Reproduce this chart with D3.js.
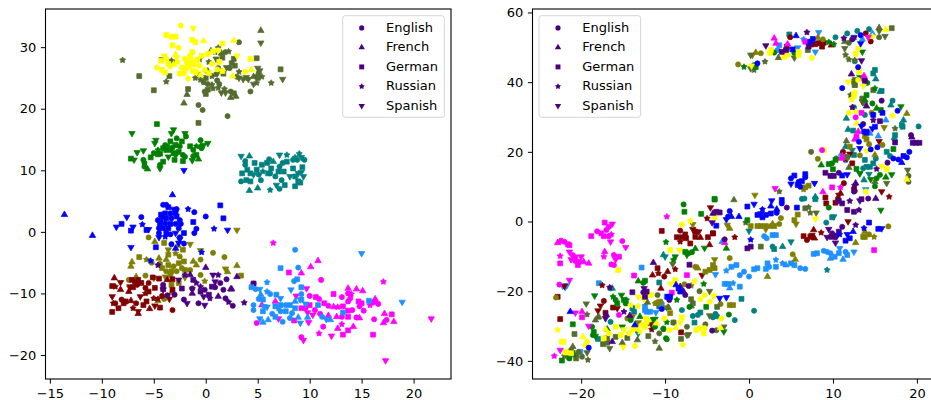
<!DOCTYPE html>
<html>
<head>
<meta charset="utf-8">
<script src="https://cdn.jsdelivr.net/npm/d3@7"></script>
<style>
  html, body { margin: 0; padding: 0; background: #fff; overflow: hidden; }
  svg { display: block; }
  text { font-family: "DejaVu Sans", sans-serif; fill: #000; }
</style>
</head>
<body>
<svg id="chart" width="931" height="400"></svg>
<script>
var languages = ["English", "French", "German", "Russian", "Spanish"];

var leftXTicks = [-15, -10, -5, 0, 5, 10, 15, 20];
var leftYTicks = [-20, -10, 0, 10, 20, 30];
var rightXTicks = [-20, -10, 0, 10, 20];
var rightYTicks = [-40, -20, 0, 20, 40, 60];
var leftXDomain = [-15.42, 23.6];
var leftYDomain = [-23.9, 36.2];
var rightXDomain = [-25.8, 21.8];
var rightYDomain = [-45.2, 61];

// each point is [x, y, language index]
var leftYellow = [[-2.4,33.5,0],[-1.2,33.1,4],[-3.8,32,2],[-3.3,31.7,2],[-2.9,31.7,2],[-3.2,30.3,2],[-2.6,29.9,0],[-1.3,31.2,2],[-1,30.8,2],[-.2,31,1],[2.7,31.1,1],[1.6,30.6,2],[.2,28.9,2],[1.2,29.5,0],[.7,29.3,2],[3,28.6,4],[4.3,28.1,2],[-4.3,27.8,2],[-3.8,28.1,0],[-3.6,27.3,2],[-2.8,28.3,4],[-2.7,27.6,3],[-2,28.1,0],[-1.8,27.6,2],[-1.5,28.5,2],[-1.3,27.7,0],[-1.1,27.2,2],[-1.6,26.9,2],[-1.9,26.6,2],[-1.3,29.2,2],[-.8,28,2],[-.6,27,0],[-2.3,26.7,0],[-2.1,25.8,2],[-2.5,25.7,2],[-1.7,24.9,0],[-4.7,26.7,0],[-4.2,26.3,2],[-3.9,25.9,2],[-3.4,26.9,0],[-3.1,27.2,1],[-1,26,2],[-.5,25.5,1],[.3,25.8,2],[-.1,26.3,0],[1.6,26.1,2],[1.1,26.4,0],[2.6,25.3,1],[3.8,26,0],[4.4,26.3,1],[-.4,28.6,2],[.6,27.3,0],[1.3,27.6,2],[-4,28.6,4],[-2.9,28.8,1],[-1.2,26.1,2],[-.9,25.9,4]];
var leftOliveGreen = [[-8,27.9,3],[-6.4,25.3,2],[-5,23,2],[-3.5,25.3,2],[-3.8,24.4,3],[3.2,30.8,0],[5.3,32.7,1],[5.3,30.7,4],[4.9,28.2,2],[7.2,26.4,2],[7.4,24.8,4],[6.3,24.2,3],[4.3,22.8,0],[-1.7,23.2,2],[-1.8,22.3,1],[-2.1,20.9,1],[-.7,20.6,0],[-.3,19.8,0],[2.1,18.8,0],[-.7,17.7,2],[-4.2,28,4],[-3.3,27.8,3],[-3.2,27.5,4],[-.6,28,3],[.3,27.6,3],[1,28.1,4],[1.6,28.3,2],[.9,29.2,3],[1.2,29.9,3],[.5,29.4,1],[1.5,29,1],[1.9,29.2,0],[2.2,29.3,3],[2.5,27.4,2],[2.8,27,2],[2.7,28.1,2],[2.3,26.6,0],[2,26.7,4],[1.2,26.6,0],[1.4,26.1,2],[1.7,25.7,2],[1,25.6,0],[.6,25.3,3],[.2,26.1,1],[-.8,25.6,4],[-1,25,3],[-.5,24.7,3],[-.2,24.3,0],[0,25,2],[.2,24,0],[.6,23.9,3],[1.1,24.6,0],[1.3,24,0],[1.2,23.4,3],[.7,23.3,3],[.2,23.1,2],[-.1,22.8,0],[0,22.4,2],[1.8,23.2,3],[1.5,22.6,4],[1.9,22.6,4],[2.4,22.8,0],[2.7,22.5,2],[2.9,22,1],[2.4,21.8,1],[3,25.2,0],[3.2,25,4],[3.6,24.8,4],[3.9,25.1,4],[4.1,24.8,4],[4.6,25.2,1],[4.9,25.3,3],[5.1,25.8,0],[5.2,26.2,4],[5.4,25.2,3],[4.9,24.2,3],[4.6,24,4],[5,26.6,4],[3.2,26,3],[5,25,2]];
var leftGreen = [[-4.7,17.5,2],[-7.1,16,4],[-7.2,11.9,2],[-6.9,11.7,4],[-6.6,12.9,4],[-6,13.2,4],[-6,11.7,0],[-5.9,11.2,0],[-5.9,10.6,0],[-5.6,10.2,1],[-5.3,12.1,2],[-4.8,14.9,4],[-4.9,14.4,4],[-4.4,10.3,4],[-4.4,10.9,0],[-4.1,11.4,2],[-5,12.8,0],[-4.6,13.3,3],[-4.4,12.7,2],[-4.1,13.6,2],[-3.9,14.1,0],[-3.8,13.3,2],[-3.4,14.7,2],[-3.3,16,4],[-3.1,16.6,4],[-2.8,15.2,0],[-2,16,4],[-1.9,15.5,0],[-2.9,14.1,2],[-2.5,13.9,0],[-2.3,14.7,2],[-3.4,13.3,0],[-3.1,12.8,2],[-2.6,13,2],[-2.2,12.5,0],[-3,11.7,2],[-2.2,11.5,2],[-2,12.2,0],[-3.6,12.2,4],[-1.5,13.9,2],[-1.2,13.3,0],[-1.2,12.3,0],[-1.3,11.6,4],[-.7,11.8,1],[-.9,12.5,2],[-.5,14.9,0],[-.5,13.9,3],[-.2,14.1,4],[.2,14.4,4],[-.9,13.9,3],[-.4,13.6,0],[-4.6,12.6,2],[-3.7,13.8,2],[-3.2,13.7,0],[-2.9,12.6,0]];
var leftTeal = [[3.4,12.3,4],[4.2,12.3,1],[3.8,11.5,0],[3.8,10.9,0],[4,10.1,2],[3.5,9.5,2],[3.4,8.2,0],[3.9,8.4,2],[4.3,8.2,2],[4.2,6.7,1],[5,7.1,1],[6.2,6.8,3],[7.1,7,0],[8.6,7.4,2],[4.7,11.2,2],[4.9,10.1,2],[5.3,8.4,0],[5.4,10.9,2],[5.9,11.2,2],[6.1,11.8,0],[6.3,10.3,2],[6,9.5,2],[6.7,9,0],[7,9.8,2],[7.5,9.8,2],[7.3,8.4,0],[7.6,7.6,2],[6.8,7.6,4],[6.5,11.4,1],[7.1,12.5,4],[7.8,12.5,3],[8.6,12.1,3],[8.4,11.7,0],[8.8,11.7,0],[7.8,11.4,2],[7.4,11.2,0],[8.4,10.3,2],[8.9,9.5,4],[8.6,9,2],[8.9,8.2,2],[8.1,9,4],[6.2,9.5,0],[5.5,9.8,3],[4.6,9.3,4],[4.3,9.5,2],[5.1,9.3,0],[7.1,10.6,0],[9.2,12.1,4],[9.5,11.7,0],[9.3,10.5,2],[9.2,9.7,4],[9.4,9,4],[9,12.7,3],[9.1,8,2]];
var leftBlue = [[-13.6,2.8,1],[-10.9,-.6,1],[-2.1,10,4],[-3.2,6,1],[-8.6,.8,4],[-8.1,1.3,2],[-7.6,2.4,4],[-7,.8,4],[-7.2,.2,2],[-6.2,2.4,0],[-6.1,1.2,3],[-5.7,.3,2],[-5.5,.4,4],[-7.2,-2.5,4],[-5.3,-4.7,3],[-4.8,-2.5,2],[-3.3,-2,0],[-2.9,-2.7,1],[-2.6,-1.8,4],[-2.1,-1.9,0],[-.4,-3.3,3],[-1.7,3.7,3],[-1.1,3.2,0],[-1.2,1.6,2],[-.9,.5,0],[-1.1,-.2,0],[-2.1,-.2,2],[-2.5,-.9,0],[-2.5,-1.2,4],[0,2.5,0],[1.4,4.3,2],[1.7,2.2,2],[.8,.5,3],[2.1,.3,4],[-4.1,4.4,0],[-3.8,4.4,0],[-3.6,4,2],[-3.1,3.7,4],[-2.8,3.7,0],[-4.3,2.8,2],[-4.6,1.9,0],[-3.9,3,2],[-3.4,3,0],[-2.9,3,2],[-4.2,2.2,4],[-3.8,2.2,2],[-3.3,2.2,0],[-2.8,2.5,2],[-2.5,1.9,0],[-4.4,1.4,2],[-3.9,1.4,0],[-3.4,1.3,2],[-2.9,1.3,0],[-2.4,1.3,0],[-4.5,.6,0],[-4.1,.6,2],[-3.6,.6,2],[-2.6,.6,0],[-4.5,-.2,0],[-3.8,-.2,2],[-3.4,-.4,0],[-2.9,-.2,4],[-4.5,-.9,4],[-3.9,-.8,3]];
var leftOlive = [[-5.5,-.9,0],[-4.9,-1.6,1],[-4,-1.8,2],[-2.7,-2.2,1],[-1.5,-2,4],[-.5,-3,4],[.7,-3.4,0],[1.8,-4.1,0],[3,.3,4],[-6.4,-4.1,2],[-7.1,-4.9,1],[-7.2,-5.6,1],[-5.7,-4.5,3],[-5.2,-5,0],[-4.5,-4.3,1],[-3.6,-2.9,4],[-3.6,-3.7,2],[-2.9,-3.5,3],[-2.2,-2.9,2],[-2.5,-4,0],[-2.1,-4.8,2],[-3.8,-4.5,1],[-4.4,-5.2,0],[-4.2,-5.9,2],[-3.6,-5.4,2],[-3.1,-5.6,0],[-2.6,-5.1,2],[-2.3,-5.9,0],[-2,-6.2,2],[-3.8,-6.4,0],[-3.3,-6.4,2],[-2.8,-6.4,0],[-3.9,-7.3,4],[-3.4,-7,2],[-1.2,-4.8,1],[-.5,-4.5,0],[-.9,-5.4,1],[-1.5,-6.2,0],[-.5,-7,0],[1.9,-6,4],[2.1,-6.5,1],[3,-5.5,1],[3.4,-7.1,2],[-.1,-8,3],[-7.4,-7.8,0],[-6.7,-7.3,1],[-7.3,-9.1,4],[-5.8,-7.1,0],[-5,-7.5,4],[-4.6,-11.2,1],[-4,-10.9,0],[-3.3,-9.9,1],[-3.3,-8.6,2],[-2.6,-8.3,2],[-2,-7.4,4],[-1.3,-9.3,4]];
var leftMaroon = [[-3.2,-12.7,0],[-9,-13,2],[-8.4,-12.4,2],[-9,-10.5,4],[-8.8,-7.5,1],[-9,-8.8,2],[-8.7,-8.9,3],[-8.2,-8.2,4],[-8.7,-11.6,0],[-8.9,-11.6,3],[-8.1,-11,0],[-7.7,-11.3,2],[-8.2,-9.4,1],[-7.4,-9.7,1],[-7.2,-11.2,1],[-7,-12.4,3],[-6.5,-12.9,4],[-6.5,-13.3,1],[-6.7,-11.6,0],[-6,-11.9,2],[-5.7,-11.3,2],[-7.1,-7.8,2],[-6.8,-8.1,2],[-6.5,-7.8,2],[-7,-9,2],[-6.6,-8.6,0],[-6.2,-8.3,2],[-5.8,-9.1,0],[-5.5,-9.7,2],[-5.5,-8.3,0],[-5.1,-7.4,2],[-4.9,-9.1,2],[-4.5,-7.6,2],[-4.1,-9.4,4],[-4.2,-10.4,0],[-4.6,-10.9,3],[-4.9,-12,4],[-4.4,-12.3,2],[-5.4,-12.5,1],[-3.5,-10.9,4],[-3.2,-9.4,2],[-3.2,-7.7,2],[-3.7,-7.8,1],[-5,-10.8,3],[-6.3,-10.5,4],[-5.8,-10,3],[-7.3,-8.9,4],[-7.9,-11.6,2]];
var leftIndigo = [[0,-5.8,1],[-1.8,-11.6,4],[-2.1,-11,0],[-3,-10.2,0],[-3.7,-10.3,0],[-4.1,-8.6,0],[-4.1,-9.3,2],[-4.6,-5.4,3],[-2.6,-7.8,4],[-2,-7,3],[-1.5,-7,1],[-2.3,-9.2,2],[-1.3,-9.2,0],[-.9,-8.3,3],[-1.2,-7.8,2],[-.5,-8.9,3],[-.5,-9.7,2],[-.1,-9.4,0],[.3,-10.2,2],[-.2,-10.5,4],[.4,-10.8,3],[-.1,-11.9,4],[-.7,-11.6,0],[-1.3,-10,1],[.6,-8.9,2],[.9,-8.1,4],[.7,-7,4],[1.2,-7,3],[1.4,-8.3,0],[1.7,-9.4,0],[1.2,-10.5,1],[.9,-9,0],[2,-7.7,0],[2.4,-9.3,1],[1.9,-10.8,0],[2.2,-11.4,3],[2.6,-12,0],[3,-7.3,1],[4.6,-8.4,2],[4.6,-8.4,0],[2.5,-9.3,1],[3.7,-11.5,3]];
var leftMagenta = [[6.5,-1.8,3],[10.8,-4.7,1],[10.1,-5.7,1],[8,-6.6,2],[9.2,-6.7,1],[11.1,-7.8,0],[17.1,-8.1,3],[9.7,-9.2,4],[8.7,-10.4,4],[10,-10.4,0],[10.6,-10.6,2],[10.9,-10.9,0],[12.3,-10.1,2],[13.1,-10.6,0],[13.7,-9.2,1],[13.7,-10,0],[14,-10.1,3],[14.5,-9.3,1],[15.1,-9.6,1],[13.9,-10.8,0],[13.7,-11.3,0],[14.7,-11.3,2],[15,-11.6,2],[14.8,-12.1,0],[15.8,-11.9,3],[16.3,-10.9,1],[16.3,-11.3,0],[16.6,-11.7,0],[16,-11.5,2],[11.4,-11.6,2],[11.8,-12,0],[12.3,-12.2,1],[12.7,-12.2,3],[13.2,-12.1,2],[10.5,-12.7,0],[10,-11.9,2],[9.6,-12.4,0],[9.2,-12.4,2],[9.8,-13.1,4],[10.3,-13.5,4],[11,-13.3,0],[11.8,-13.6,1],[12.6,-13.8,1],[13.1,-13.8,0],[13.7,-12.8,2],[14.1,-12.7,0],[13.7,-13.8,2],[14.5,-13.9,0],[14.8,-14,1],[15.2,-12.8,0],[16.2,-14.2,0],[17.2,-13.3,1],[17.9,-13.4,2],[17.4,-14.3,0],[17.1,-14.8,1],[18.1,-14.6,1],[21.7,-14.1,4],[17.3,-20.9,4],[16.1,-16.7,2],[13.7,-16,2],[13.2,-16.7,2],[14.2,-15.4,1],[13.1,-15,3],[12.7,-15.7,1],[11.3,-15.4,0],[10.9,-16.5,3],[12.1,-16.9,4],[9.2,-17.1,0],[9.4,-17.6,4],[9.9,-14.7,4],[8.5,-14.4,2],[7,-14.1,4],[4.9,-14.8,0],[5.4,-11.9,1],[6.7,-11.3,1]];
var leftDodger = [[8.6,-2.9,0],[15,-3.5,4],[7.2,-5.9,2],[8.9,-5.8,0],[8.5,-8,0],[8.8,-7.7,2],[9.2,-9,2],[5.9,-8.2,3],[4.4,-9,2],[4.8,-9.3,0],[5.2,-9.3,4],[5.3,-10.2,1],[5.9,-9.7,3],[6.2,-10.1,0],[8.2,-9.4,4],[9.2,-10.1,0],[5.1,-10.9,0],[5.5,-11,2],[6.8,-10.2,2],[7.2,-10.8,4],[4.6,-11.9,0],[4.6,-12.7,0],[5.6,-12.1,4],[5.9,-12.2,4],[5.5,-12.9,2],[6.4,-13.3,0],[6.7,-12.1,2],[7.2,-11.9,2],[7.7,-11.9,0],[8.1,-11.9,2],[8.6,-11.3,1],[9.1,-11,4],[9.6,-11.7,4],[10.8,-11.9,2],[7.2,-12.9,0],[7.7,-12.9,2],[8.3,-13.2,0],[6.7,-13.8,2],[7.4,-14.6,0],[8.1,-14,0],[8.9,-13.9,1],[5.2,-14.1,4],[5.5,-14.7,1],[6,-14.3,1],[9.1,-14.8,4],[9.8,-13.9,1],[11.2,-13.8,0],[11.6,-14.2,4],[12,-14.3,1],[13.2,-13.1,2],[15.7,-11.2,2],[18.9,-11.4,4],[7,-12.4,3],[8.6,-12.4,2],[9.2,-11,2]];

var rightDodger = [[1.8,-4.2,0],[2.1,-4.8,0],[2.8,-3.9,2],[3.2,-3.9,2],[7.7,-9.3,2],[8.1,-9.1,2],[8.9,-8.4,0],[9.3,-8.7,0],[9.7,-9.1,0],[10.2,-10.1,2],[10.7,-9.1,2],[10.8,-7.7,4],[11.5,-8.7,0],[11.7,-9.6,2],[12.5,-8.7,4],[11.2,-10.9,1],[9.7,-10.6,1],[3.2,-11,3],[2.2,-12,2],[2.4,-13,0],[2,-13.6,2],[1,-13.4,2],[.6,-13.7,2],[0,-15.8,0],[-.6,-14.4,0],[-1.1,-15.4,0],[-1.5,-12.5,2],[-2.1,-13,2],[-2.7,-14.1,3],[-4,-15.2,4],[4,-12,3],[4.4,-12.5,1],[5,-12,2],[5.4,-12.5,2],[6.1,-13.4,0],[6.7,-13.6,0],[3.2,-13,2],[-2.9,-17.9,2],[-2.5,-17.9,2],[-1.9,-17.7,3],[-1.1,-18.7,2],[-2.3,-19.1,1],[8.3,54.3,4],[6.5,52.3,3],[3.6,50.6,2],[3.4,49.2,0],[4.6,49.5,3],[5.8,49.9,4],[7.9,48.7,4],[12.5,52.8,2],[13.5,52.3,1],[14.7,54,1],[16.3,29.1,1],[15.4,24.5,1],[14.4,25.3,1],[11.5,17.6,0],[11,19.4,1],[13.9,9.2,4],[-17.9,-17.7,2],[-22.2,-18.5,4],[-21.9,-18.9,4],[-21.7,-18.3,4],[-12.8,-13.2,2],[-12.4,-24.4,2],[-12.4,-25.4,2],[-12.2,-25.9,2],[-11.8,-25.9,2],[-11.1,-26.1,4],[-10.4,-24.4,0],[-10.4,-23.5,0],[-9.8,-21.6,2],[-20.1,-37.4,2],[-3.2,-5.8,1]];
var rightTeal = [[4.8,53.7,2],[10.3,52.9,0],[11.7,54,0],[12.9,54.7,0],[14.3,55.2,0],[15,43.5,2],[14.8,42.5,2],[15.1,40.9,1],[15.6,37.3,1],[15.8,37.5,2],[12.6,46,0],[17.1,34.7,0],[16.9,33.4,1],[11.6,29.6,1],[18.4,29.1,1],[18.2,27.7,2],[18.3,27.2,2],[20.2,27.3,0],[11.8,26.4,1],[12.4,26.1,2],[17.4,24.8,2],[17.3,24,1],[12.5,32.8,0],[13.8,30.6,0],[16.4,20,2],[16.8,18.8,0],[15.1,18.1,0],[13.8,17.7,2],[14,15.7,2],[14.4,15.7,2],[14.8,16.7,2],[13.6,15.3,0],[12.5,19.1,2],[12.3,20.5,4],[11.5,21.5,1],[13.2,13.8,4],[14.3,13.6,4],[13.7,11.9,1],[6.3,6.5,0],[6.6,6.6,0],[7.9,7.1,1],[7.9,6.4,2],[9.2,-.3,0],[9.9,1.2,2],[10.1,1.4,4],[0,-2.7,4],[2.8,-7.2,0],[3,-7.9,2],[4,-7.2,1],[5,-5.8,4],[9.3,-13.9,3],[-.9,-22.2,2],[.6,-25.6,0],[-8,-25.4,0],[-6.7,-27.1,0],[-5.8,-26.1,2],[-6.1,-26.8,0],[-6.5,-29,2],[-4.3,-27.5,0],[-4,-26.5,0],[-3.8,-27.2,0],[-1.7,-28.3,0],[-10.7,-24.4,2],[-10.2,-9.6,1],[-10,-10.1,4],[-16.3,-19.2,1],[-16.5,-19.2,0],[-13.9,-24.9,2],[-13.7,-25.9,2],[-13.2,-32.1,4],[-10.7,-17.5,2],[-18,-33.7,2],[-16.5,-28.8,0]];
var rightGreen = [[-.6,44.4,3],[.6,44.9,0],[.8,44.4,2],[3,48.5,0],[5.4,48.4,0],[9.5,51.5,3],[10.1,50.9,3],[13.5,48.7,4],[15,38.2,3],[14.1,39.8,0],[13.2,41.4,4],[14,36.3,2],[13.8,34.9,1],[14.7,33.9,0],[15.2,32.5,1],[18.1,33,4],[17.2,20.8,2],[8.6,16.2,1],[9.5,16.5,2],[9.9,16.7,0],[10,15,2],[10.3,17.7,2],[10.4,18.1,0],[12.8,15.1,2],[13.2,13.8,4],[14.5,12.1,4],[15.2,12.4,0],[15.6,13.4,0],[16.3,12.7,1],[17,13.5,4],[15,10.1,0],[15.7,32,2],[9.5,4,0],[15.7,3.3,4],[-4.1,6.5,2],[-.2,.4,2],[-2.7,-7.7,1],[-7.8,4.9,0],[-7.7,2.8,2],[-5.7,2.2,2],[-9.9,-5.9,3],[-7.6,-8.7,2],[-7.2,-9.1,0],[-7.4,-9.6,4],[-6.8,-8.8,0],[-6.4,-7.8,1],[-5.3,-7.6,4],[-8.8,-10.1,4],[-9,-11,3],[-12.4,-17,2],[-12.6,-17.6,0],[-5.4,-17.9,3],[-8.6,-22.5,3],[-7.1,-24.5,0],[-5.1,-24.5,2],[-2.4,-26.7,0],[-10.2,-30.9,0],[-9.8,-28.9,3],[-11.4,-28.1,4],[-9.8,-33.8,0],[-3,-31.6,4],[-13.2,-17.1,1],[-18.4,-21.3,4],[-16.2,-21.6,3],[-15.9,-22.5,0],[-15.7,-23.5,2],[-15.2,-21.1,4],[-14.9,-22.5,2],[-14.7,-23.5,0],[-14.6,-22.5,3],[-11.2,-28,4],[-11.2,-30.2,0],[-15.1,-30.2,4],[-14.1,-28.3,0],[-13,-27.3,1],[-21,-29.5,2],[-18.7,-30.2,0],[-18.5,-31.7,2],[-18.3,-32.9,4],[-18.6,-32.6,0],[-16.9,-30.9,1],[-22.3,-39.9,2],[-21.5,-38.8,3],[-21.2,-37.8,4],[-21.4,-39.3,0],[-21,-38.3,1],[-9.9,-33.5,0],[-10.2,-30.7,0],[-4.1,6.3,2]];
var rightBlue = [[1,45.4,0],[5.6,53.3,1],[7.6,52.4,2],[7.3,51.6,2],[5.2,49.4,2],[13.3,53.5,0],[13.3,51.1,4],[13,44.3,0],[11.1,38.3,0],[17.7,31.8,0],[15.9,31.2,2],[14.8,30.6,2],[15,27.2,2],[14.7,26.7,4],[13.4,27.4,4],[13.7,25.8,0],[14,25.5,2],[13.1,22.9,0],[13.2,21,4],[14.5,20.7,0],[15.3,21.3,0],[17.2,18.1,0],[17.8,17.8,0],[18.4,18.8,2],[18.8,18.4,0],[19.1,20,0],[18.2,16.9,1],[11.1,13.2,2],[11.7,13.5,4],[5,12.4,0],[5.4,13.2,2],[6.7,13.6,2],[6.7,12.7,0],[5,10.8,4],[5.9,11.4,0],[6.3,11.6,2],[5.8,10.5,2],[6.1,10,0],[7.8,11,4],[-.2,4.3,2],[.6,5,4],[2.7,6,4],[3.9,6.2,2],[3.9,5.2,0],[2.6,4.4,1],[3.3,3.5,1],[5.7,4,2],[1.6,3.5,3],[1.4,2.3,4],[1,1.9,2],[2,1.9,2],[2.6,2.3,2],[3.3,2.5,0],[1.6,1.2,2],[-2.3,3,0],[-2.5,1.4,0],[-2.1,1.4,1],[-1.2,1.4,1],[-2.7,.6,4],[-3.9,-1.2,2],[.2,-5.2,3],[11.7,-3.7,4],[11.5,-5.5,2],[12,-4.8,2],[12.4,-2.9,1],[10.8,-3.7,3],[13.7,-1.9,3],[14.3,-.3,2],[15.4,-2.1,2],[15.8,-2,4],[-3.5,-22,4],[-2.7,-21.8,4],[-21.3,-25.9,1],[-19.1,-36.2,0],[-13.6,-29.7,1],[-8.7,-18.2,1],[-8.4,-19.2,2],[-9.7,-21.6,2],[-9.4,-21.6,2],[-10.4,-25.1,0],[-8.2,-20.1,2]];
var rightMagenta = [[-9.8,1.4,3],[-22.8,-6.1,1],[-22.4,-5.5,0],[-22,-5.8,0],[-21.6,-6.5,2],[-21.4,-6.8,2],[-22.5,-9.9,3],[-21.4,-8.7,4],[-21,-9.6,0],[-21.2,-10.9,4],[-20.7,-10.3,2],[-22.5,-12,2],[-20.7,-11.3,0],[-20.4,-12.5,2],[-20,-10.1,4],[-19.7,-11.6,1],[-19.1,-12,1],[-20.2,-11.6,0],[-18.8,-4.2,2],[-18.1,-2.8,0],[-17.6,-3.4,2],[-17.2,-.3,2],[-16.7,-1.5,0],[-17,-2.4,0],[-16.3,-.7,4],[-17.3,-4.2,2],[-16.7,-4.2,0],[-16.4,-3.7,3],[-16.5,-5.8,4],[-15.1,-5.6,0],[-14.7,-7.4,4],[-17.2,-8.7,1],[-17.3,-10.1,3],[-16.1,-9.6,0],[-15.5,-10.1,2],[-15.9,-10.9,4],[-16.4,-12.3,0],[-16.1,-12.5,0],[-22.6,-18.1,0],[-21.4,-16.8,4],[-22.5,-36.9,4],[-23.2,-38.6,3],[-13.7,-15.5,2],[-7.4,-15.4,2],[-9.2,-20.4,2],[-15.5,-26.8,0],[-20.7,-26.2,4],[-19.9,-25.9,1],[-19.9,-27.5,2],[-19.1,-30,4],[-2.9,-6.1,1],[3,52.6,1],[3.2,51.1,1],[4.6,50.9,1],[6.7,51.6,2],[8.7,20.5,0],[11.1,18.8,1],[11,18.1,1],[14.2,52.9,4],[13.7,41.8,1],[13.7,40.8,0],[12.7,29.9,0],[13.4,31.2,2],[13,25.8,1],[12.8,24.4,2],[12.6,23.6,1],[3.1,9.5,4],[9.9,9.8,2],[10.9,9.8,3],[8.8,8.5,1],[14.9,-8.2,2]];
var rightYellow = [[-8,-.8,0],[-7,.2,3],[-9.4,-8.2,2],[-8.3,-8.2,4],[-15.6,-13.9,2],[-9.3,-17.9,4],[-6.5,-17.1,3],[-14.1,-24,3],[-13.2,-21.6,4],[-12.5,-22.1,4],[-11.7,-21.1,2],[-13.2,-24.3,3],[-19.8,-33.1,1],[-19.3,-34.5,0],[-19.5,-35.5,0],[-22.1,-34.5,2],[-21.9,-37.4,2],[-21.2,-37.8,2],[-13.6,-35.7,0],[-17.1,-30.9,1],[-15.9,-30.2,2],[-16.7,-32.1,0],[-17.3,-33.5,2],[-14.9,-31,4],[-15.3,-32.6,2],[-14.3,-32.1,0],[-13.9,-31,2],[-13.4,-30.7,2],[-12.6,-29.7,0],[-13,-31.6,3],[-12.8,-29.7,3],[-15,-36,4],[-12,-28.3,1],[-22.8,-31.1,3],[-22.3,-34.5,2],[-21.8,-37.6,2],[-12.3,-27.8,0],[-12.2,-28.8,2],[-12.4,-30.2,2],[-11,-29.2,1],[-10.1,-27.8,0],[-9.5,-31.1,0],[-8,-27.5,2],[-8.2,-29,4],[-8.7,-30.5,1],[-7.9,-35.4,3],[-6.3,-31.1,2],[-5.9,-30.6,0],[-5.4,-32.1,2],[-5.3,-30.6,0],[-3.4,-30.5,1],[-3.3,-27.8,0],[-4.7,-23,0],[-5.3,-21.1,0],[-4.2,-21.3,3],[-5.8,-22.3,3],[-12.6,-22.1,4],[-8.8,-16.8,2],[-8.4,-18.5,2],[-4.1,1.2,2],[7.9,.8,4],[-4.2,-21.3,3],[8.9,20.5,2],[7.5,47,0],[5.9,48.7,2],[5.9,47.8,2],[4.2,47.3,2],[4.6,47.8,0],[2.6,49.2,2],[2.5,48.4,2],[.3,44.7,4],[12.7,48.1,2],[13,49.7,0],[16.3,55.1,1],[14.7,53.2,3],[13.1,43,2],[13,40.6,0],[11.8,40.1,4],[13.6,38.9,4],[12.6,37,0],[12.5,36.1,2],[12.2,35,3],[11.9,31.2,0],[12.7,31.5,3],[12.8,28.2,1],[17.1,30.4,3],[14,20.3,4],[15.8,15.9,4],[16.4,15,2],[18.8,12.1,1],[13.9,8.6,0]];
var rightOlive = [[.7,7.6,4],[7.1,10.3,2],[6.7,9.8,2],[6.5,9.2,3],[3.8,1,0],[5.8,2,2],[5.4,.4,2],[5.6,-.7,4],[-2.6,-1,4],[-2.3,-2,1],[.2,-1.3,2],[1,-1.3,2],[1.4,-1.3,2],[2,-1.3,2],[2.6,-1.3,0],[3,-1.3,2],[3.6,-.7,0],[2,-2.2,4],[2.8,-.7,1],[13.6,-4.4,2],[13.8,-4.4,2],[14.3,-3.7,0],[14.9,-4.4,3],[16.6,-1.4,0],[12.7,-6.1,1],[13.8,-2.9,1],[5.2,-9.4,0],[5.5,-10.9,1],[-2.3,-10.5,0],[-4.1,-10.9,4],[-4.3,-12.5,2],[-4.1,-13.4,2],[2.2,-15.8,1],[-1.3,45.1,0],[.4,47.8,4],[.8,48.5,1],[1.4,48.3,0],[8.8,52.3,0],[8.2,52.8,1],[18.8,31,1],[16.1,27,4],[12,21.5,2],[13.2,19,0],[11.6,18.4,2],[8.2,18,0],[14.3,22.2,0],[14,23.6,2],[15.9,22,0],[15,19.1,1],[13.8,24.5,2],[14.6,31.2,0],[12.5,40.1,2],[12.6,39.2,2],[13.6,34.9,2],[-6.7,-.8,4],[-6.4,-13,0],[-6.1,-13.4,1],[-5.2,-14.4,2],[-4.7,-13.9,2],[-7.7,-18,0],[-6.9,-18.4,3],[-11,-23.3,3],[-10.6,-23,2],[-9.4,-26.3,2],[-9.7,-24.7,1],[-2.3,-24,2],[-1.9,-24,2],[-3.4,-23.7,0],[-9,-29,0],[-17.9,-27.3,1],[-9.8,-24.7,4],[-10.8,-23.5,3],[-11.2,-23.5,3],[-14.5,-27.8,0],[-13.9,-27.3,4],[-13.2,-29,4],[-23,-21.8,0]];
var rightOliveGreen = [[.2,43.9,4],[.6,43.5,3],[1.9,45.9,3],[.2,47.8,4],[3.5,47,1],[5.4,47,4],[7,49.2,2],[11.4,51.6,1],[11.9,51.3,0],[11.4,49.7,4],[11.5,47.8,3],[11.9,46.5,3],[12.6,46.3,3],[15.5,55.6,1],[15.5,54.7,4],[15.5,52.9,0],[16.2,53.2,4],[17,55.5,2],[12.6,40.6,2],[12.6,39.2,2],[12.1,36.3,3],[14.8,37.7,2],[13.5,35.3,2],[13.8,33.9,2],[17.4,26.7,3],[11.6,23.1,1],[7.4,20,0],[11.7,18.6,2],[11.9,15.5,1],[18.9,14.8,4],[19,13.1,0],[19,11.4,0],[16.4,11,4],[3.6,8.6,3],[15,11.4,1],[-1.8,6.2,1],[7.3,2.5,3],[8,2.5,4],[6.7,3.8,2],[7.1,4.1,3],[-.4,-.3,3],[1.4,-7.2,2],[-9.1,-12.2,4],[-6.9,-22.3,2],[-6.7,-23.5,2],[-6.9,-24.3,1],[-5.9,-20,0],[-4.7,-20,4],[-3.8,-24.5,2],[-5.2,-29.5,0],[-4.7,-27,4],[-3,-30.2,4],[-3.9,-31.2,0],[-12,-32.9,2],[-10.7,-32.1,0],[-11.2,-34.4,3],[-10.7,-36.4,1],[-8.1,-33.7,2],[-7.4,-32.6,4],[-7.2,-32.4,4],[-7.4,-30.2,0],[-9,-29,2],[-12.2,-29.4,1],[-10.9,-21.1,0],[-12.1,-23.2,1],[-9.6,-24.7,1],[-20.8,-32.3,2],[-19.4,-23.6,4],[-19.3,-26.7,3],[-18.3,-28.3,1],[-18,-27.5,1],[-13.3,-34,1],[-15.1,-34.8,1],[-16.6,-36.4,4],[-17.4,-35.2,2],[-16.9,-34.8,2],[-15.9,-33.1,2],[-14.5,-33.4,2],[-22,-38.6,3],[-21,-35.9,1],[-21.2,-36.9,0],[-20.6,-38.3,0],[-20.3,-37.4,0],[-19.9,-38.8,0],[-20.6,-39.3,2],[-21,-37.7,2],[-19.3,-37.6,4],[-19.2,-39.7,3],[-16.9,-33.5,2]];
var rightMaroon = [[-10.4,-2.7,2],[-8.2,-2.6,0],[-8.6,-4.5,2],[-8,-4.5,2],[-7.6,-3.7,2],[-7.5,-4.8,2],[-8.2,-5.8,3],[-7,-6.3,2],[-6.7,-2.2,4],[-6.4,-2.9,2],[-6,-2.9,4],[-6.4,-4.4,2],[-5.8,-4.6,1],[-4.9,-4.5,2],[-4.3,-3.4,2],[-4.7,-6.7,1],[-5,.9,3],[-4.6,4,4],[-10.9,-13.4,2],[-11.5,-15.4,1],[-10.8,-14.9,3],[-9.7,-14.4,1],[-8.8,-13.7,3],[-10.1,-15.8,0],[-5.6,-15.4,4],[-10.5,-19.2,1],[-8.1,-31.8,2],[-11.6,-31,3],[-22.8,-21.6,2],[-22.5,-28,2],[-22,-18.5,4],[-17.5,-18.3,3],[-17.3,-22.8,0],[-17.7,-24.2,4],[-18,-25.6,4],[-17.1,-26.2,2],[-16.2,-24.7,2],[-15.7,-24.9,4],[-11.7,-29.2,4],[6.5,-4.2,2],[6.9,-5.3,0],[7.3,-4.4,2],[7.5,-3.9,4],[7.7,-2.4,1],[7.8,-4.8,1],[8.6,-3.2,3],[11.8,0,4],[-1.7,-4.5,3],[-4.3,-3.4,2],[9.1,6.9,2],[9.2,5.2,2],[10.3,5.4,2],[10.7,7.6,4],[10.6,6.6,0],[10.9,8.1,1],[11.3,11,0],[12.6,8.8,0],[12.5,9.5,0],[15.8,8.6,4],[16.7,7.1,3],[4.9,52.9,0],[4.5,50.2,2],[7.4,50.8,2],[7.9,50.9,2],[8.3,51.2,2],[8.7,51.2,2],[8.9,51.3,2],[8.7,50.2,2],[9.8,50.6,1],[13.9,54,0],[14.5,51.7,0],[15.5,23,4],[12.3,16.7,2],[12,19.4,4],[11.2,20,0],[11.5,17.9,3],[13.5,34.4,4]];
var rightIndigo = [[2,50.5,4],[6.9,54.3,3],[3.9,48.7,2],[4.4,49.2,2],[7.1,50.2,2],[11.3,52.6,3],[12.3,52.3,0],[12.5,52.8,4],[13.4,46.2,4],[12.2,42.3,1],[13.8,40.4,2],[15.8,34.7,0],[12.3,32.8,3],[14,33.1,1],[14.8,29.1,3],[15.6,28.8,2],[14,25.8,2],[13.6,28,0],[19.3,24.8,0],[19.4,24.2,1],[17.4,22.7,2],[19.5,22.6,2],[19.9,22.6,2],[20.3,22.6,2],[16.5,16.9,0],[9.1,14,2],[9.7,13.1,2],[10.1,13.1,2],[10.7,14,0],[15.2,15.1,3],[12.7,11,1],[12.6,10.2,4],[12.5,8.6,0],[14.2,6.6,0],[13.4,6.4,2],[13.2,6,4],[15.1,6.6,1],[12,5.9,3],[10.7,5.9,2],[11.1,5.2,2],[11.7,3.3,2],[12.5,2.8,2],[13.1,3.3,3],[4.5,4,0],[11.1,-1.5,0],[10.7,-2.9,2],[9.5,-2.2,4],[9.9,-3.4,0],[10.5,-3.9,4],[9.3,-4.5,4],[9.8,-4.4,2],[10.3,-4.5,0],[10.3,-6.1,4],[12.7,-1,3],[-3.9,2.8,2],[-3.5,2.6,2],[-4.3,2.3,1],[-2.9,-5.1,0],[-.2,-7.7,2],[.2,-7.2,2],[-4.4,-.3,4],[-12.6,-20.3,0],[-12.4,-21.6,2],[-8.2,-18.7,1],[-7.8,-20.1,1],[-7.6,-21.1,0],[-7.2,-18.5,0],[-9.5,-22.5,0],[-4.4,-31.3,0],[-11.4,-11.8,1],[-7.1,-12.4,2],[-16.6,-18.9,3],[-13.9,-20.3,2],[-12.5,-19.2,4],[-12.2,-20.1,2],[-14.9,-25.9,3],[-14.2,-27,1],[-17,-26.8,1],[-17.1,-27.8,4],[-16.3,-34.5,1]];

var leftClusters = [
  { color: "#808000", points: leftOlive },
  { color: "#556B2F", points: leftOliveGreen },
  { color: "#FFFF00", points: leftYellow },
  { color: "#008000", points: leftGreen },
  { color: "#008080", points: leftTeal },
  { color: "#0000FF", points: leftBlue },
  { color: "#800000", points: leftMaroon },
  { color: "#4B0082", points: leftIndigo },
  { color: "#FF00FF", points: leftMagenta },
  { color: "#1E90FF", points: leftDodger }
];
var rightClusters = [
  { color: "#008080", points: rightTeal },
  { color: "#1E90FF", points: rightDodger },
  { color: "#800000", points: rightMaroon },
  { color: "#808000", points: rightOlive },
  { color: "#556B2F", points: rightOliveGreen },
  { color: "#008000", points: rightGreen },
  { color: "#FFFF00", points: rightYellow },
  { color: "#FF00FF", points: rightMagenta },
  { color: "#4B0082", points: rightIndigo },
  { color: "#0000FF", points: rightBlue }
];

var svg = d3.select("#chart");

// the star reads as a fat pentagon at this size, so d3.symbolStar is too thin
var fatStar = {
  draw: function (context, size) {
    var r = Math.sqrt(size);
    for (var i = 0; i < 10; i++) {
      var a = -Math.PI / 2 + i * Math.PI / 5;
      var q = i % 2 ? r * 0.58 : r;
      if (i == 0) context.moveTo(q * Math.cos(a), q * Math.sin(a));
      else context.lineTo(q * Math.cos(a), q * Math.sin(a));
    }
    context.closePath();
  }
};

// marker of each language, same order as languages
var symbolTypes = [d3.symbolCircle, d3.symbolTriangle, d3.symbolSquare, fatStar, d3.symbolTriangle];
var symbolSizes = [21, 18, 24, 10, 18];
function markerPath(m) {
  return d3.symbol().type(symbolTypes[m]).size(symbolSizes[m])();
}
function markerTransform(m, x, y) {
  return "translate(" + x + "," + y + ")" + (m == 4 ? " rotate(180)" : "");
}

function drawPanel(box, xDomain, yDomain, xTicks, yTicks, clusters, legendX) {
  var x = d3.scaleLinear().domain(xDomain).range([box.left, box.right]);
  var y = d3.scaleLinear().domain(yDomain).range([box.bottom, box.top]);

  var g = svg.append("g");

  var points = [];
  clusters.forEach(function (c) {
    c.points.forEach(function (p) {
      points.push({ x: p[0], y: p[1], m: p[2], color: c.color });
    });
  });

  g.append("g")
    .selectAll("path")
    .data(points)
    .join("path")
    .attr("d", function (d) { return markerPath(d.m); })
    .attr("transform", function (d) { return markerTransform(d.m, x(d.x), y(d.y)); })
    .attr("fill", function (d) { return d.color; })
    .attr("stroke", function (d) { return d.color; })
    .attr("stroke-width", 0.7);

  // spines
  g.append("rect")
    .attr("x", box.left)
    .attr("y", box.top)
    .attr("width", box.right - box.left)
    .attr("height", box.bottom - box.top)
    .attr("fill", "none")
    .attr("stroke", "#000")
    .attr("stroke-width", 1.1);

  var xAxis = d3.axisBottom(x).tickValues(xTicks).tickSize(4.6).tickPadding(4.9).tickSizeOuter(0);
  var yAxis = d3.axisLeft(y).tickValues(yTicks).tickSize(4.6).tickPadding(4.6).tickSizeOuter(0);

  var ax = g.append("g").attr("transform", "translate(0," + box.bottom + ")").call(xAxis);
  var ay = g.append("g").attr("transform", "translate(" + box.left + ",0)").call(yAxis);
  [ax, ay].forEach(function (a) {
    a.select(".domain").remove();
    a.selectAll("line").attr("stroke", "#000").attr("stroke-width", 1);
    a.selectAll("text").style("font-size", "13px").attr("fill", "#000").style("font-family", '"DejaVu Sans"');
  });

  // legend, all entries in the last colour
  var legend = g.append("g").attr("transform", "translate(" + legendX + ",15.7)");
  legend.append("rect")
    .attr("width", 101.6)
    .attr("height", 101.6)
    .attr("rx", 2.5)
    .attr("fill", "#fff")
    .attr("fill-opacity", 0.8)
    .attr("stroke", "#d5d5d5")
    .attr("stroke-width", 1);

  var rows = legend.selectAll("g.row")
    .data(languages)
    .join("g")
    .attr("class", "row")
    .attr("transform", function (d, i) { return "translate(0," + (12.2 + i * 19.5) + ")"; });

  rows.append("path")
    .attr("d", function (d, i) { return markerPath(i); })
    .attr("transform", function (d, i) { return markerTransform(i, 19, 0); })
    .attr("fill", "#4B0082");

  rows.append("text")
    .attr("x", 43.3)
    .attr("y", 3.6)
    .style("font-size", "13px")
    .text(function (d) { return d; });
}

drawPanel({ left: 45.5, right: 451, top: 9, bottom: 379 }, leftXDomain, leftYDomain, leftXTicks, leftYTicks, leftClusters, 342.7);
drawPanel({ left: 532.5, right: 932, top: 9, bottom: 379 }, rightXDomain, rightYDomain, rightXTicks, rightYTicks, rightClusters, 539);
</script>
</body>
</html>
